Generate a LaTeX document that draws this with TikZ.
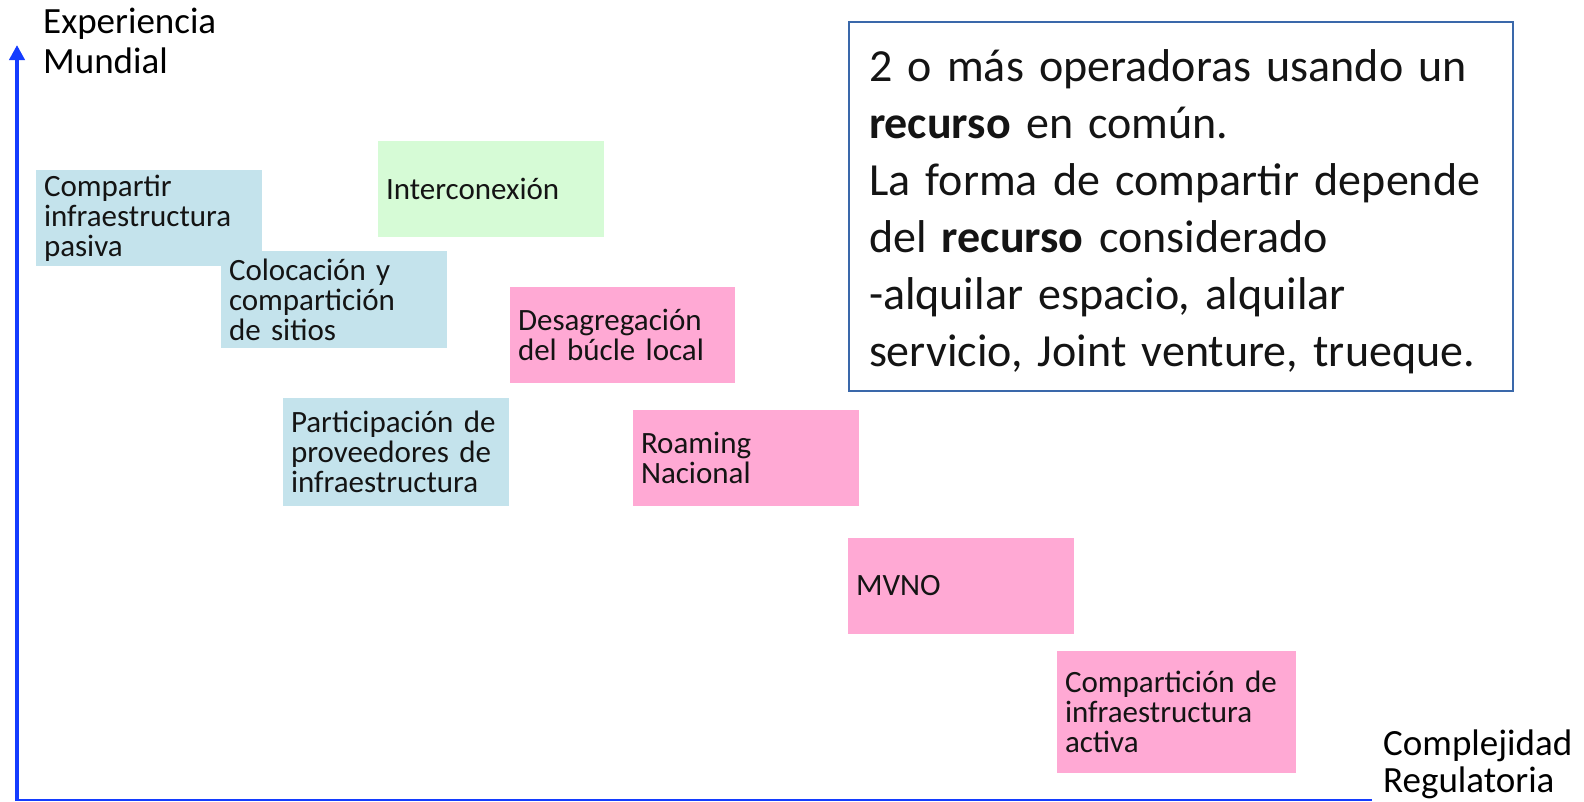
\documentclass[tikz,border=0pt]{standalone}
\usepackage{fontspec}
\setmainfont{Carlito}
\usetikzlibrary{arrows.meta}
\definecolor{blueF}{RGB}{196,227,236}
\definecolor{greenF}{RGB}{214,251,214}
\definecolor{pinkF}{RGB}{255,169,212}
\definecolor{axisC}{RGB}{20,60,255}
\definecolor{frameC}{RGB}{58,104,170}
\definecolor{txt}{RGB}{20,20,20}
\tikzset{
  cbox/.style={rectangle, inner xsep=8pt, inner ysep=0pt, align=left,
    text width=#1-16pt, minimum width=#1, text=txt,
    font=\fontsize{31}{30}\selectfont},
  axisline/.style={draw=axisC},
  axlabel/.style={align=left, inner sep=0pt, text=black},
}
\begin{document}
\begin{tikzpicture}[x=1pt,y=-1pt]
\useasboundingbox (0,0) rectangle (1584,801);
\fill[white] (0,0) rectangle (1584,801);
% boxes
\node[cbox=226pt, fill=blueF, minimum height=96pt] (pasiva) at (149,218) {Compartir\\infraestructura\\pasiva};
\node[cbox=226pt, fill=greenF, minimum height=96pt] (inter) at (491,189) {Interconexión};
\node[cbox=226pt, fill=blueF, minimum height=97pt] (coloc) at (334,299.5) {Colocación y\\compartición\\de sitios};
\node[cbox=225pt, fill=pinkF, minimum height=96pt] (desag) at (622.5,335) {Desagregación\\del búcle local};
\node[cbox=226pt, fill=blueF, minimum height=108pt] (partic) at (396,452) {Participación de\\proveedores de\\infraestructura};
\node[cbox=226pt, fill=pinkF, minimum height=96pt] (roam) at (746,458) {Roaming\\Nacional};
\node[cbox=226pt, fill=pinkF, minimum height=96pt] (mvno) at (961,586) {MVNO};
\node[cbox=239pt, fill=pinkF, minimum height=122pt] (activa) at (1176.5,712) {Compartición de\\infraestructura\\activa};
% text box
\node[draw=frameC, line width=1.5pt, rectangle, minimum width=664pt, minimum height=369pt] (note) at (1181,206.5) {};
\node[inner sep=0pt, text width=624pt, align=left, text=txt,
  font=\fontsize{46}{57}\selectfont] (notetext) at ([yshift=-5pt]note.center)
  {2 o más operadoras usando un\\\textbf{recurso} en común.\\La forma de compartir depende\\del \textbf{recurso} considerado\\-alquilar espacio, alquilar\\servicio, Joint venture, trueque.};
% axes
\coordinate (ytop) at (17,45);
\coordinate (xend) at (1372,800);
\draw[axisline, line width=4pt, -{Triangle[length=15pt,width=15pt]}] (17,801) -- (ytop);
\draw[axisline, line width=2pt] (15,800) -- (xend);
\node[axlabel, anchor=base west, font=\fontsize{37}{40}\selectfont] (ylab) at (43,73) {Experiencia\\Mundial};
\node[axlabel, anchor=base west, font=\fontsize{37}{37}\selectfont] (xlab) at (1383,792) {Complejidad\\Regulatoria};
\end{tikzpicture}
\end{document}
